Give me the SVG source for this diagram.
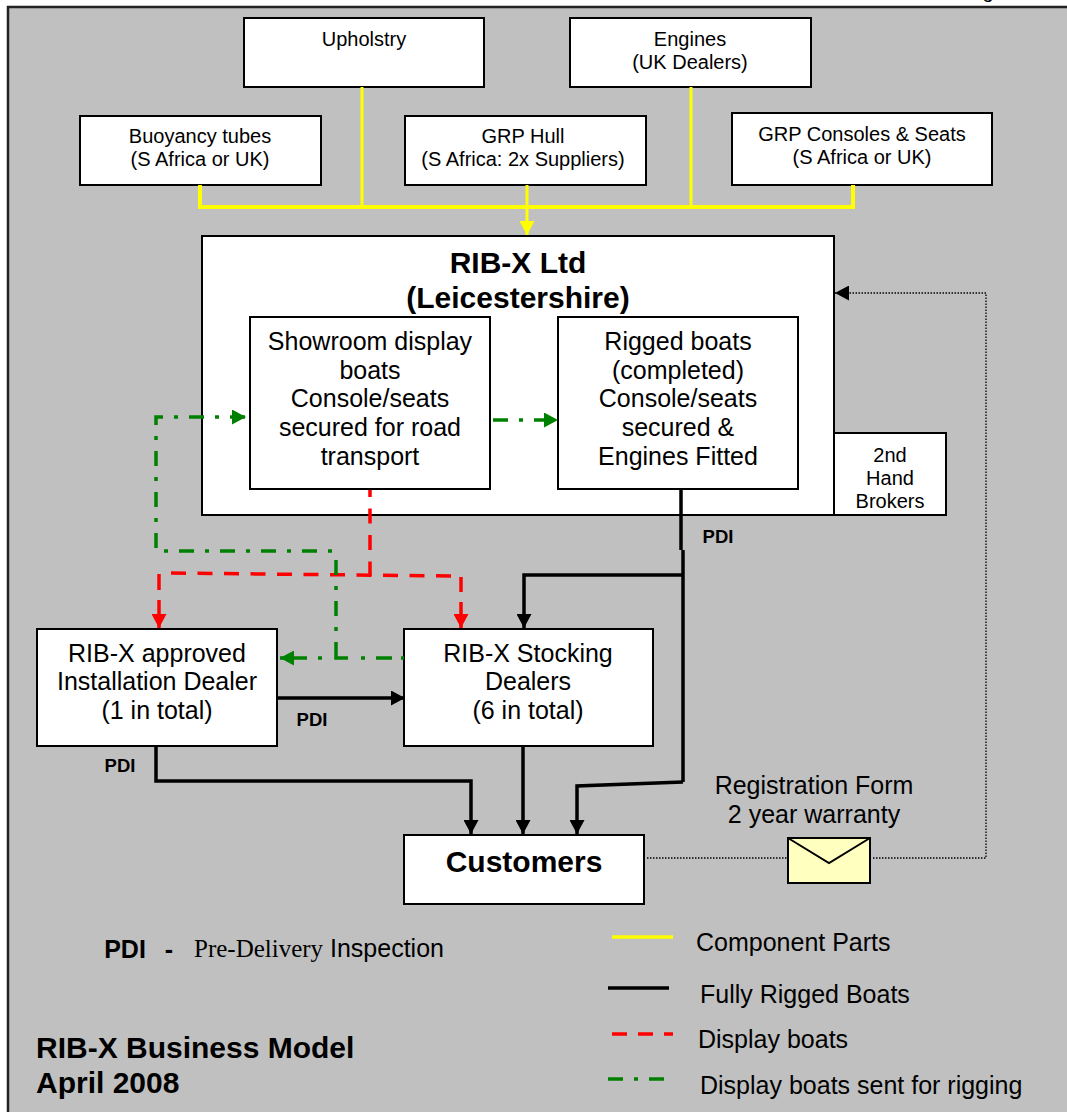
<svg xmlns="http://www.w3.org/2000/svg" width="1067" height="1112" viewBox="0 0 1067 1112">
<defs>
<style>
text{font-family:"Liberation Sans",Arial,sans-serif;fill:#000;text-anchor:middle}
.box{fill:#fff;stroke:#000;stroke-width:2}
.s{font-size:20px}.m{font-size:25px}.t{font-size:30px;font-weight:bold}
.p{font-size:18.5px;font-weight:bold}
.st{text-anchor:start}
.y{fill:none;stroke:#ffff00;stroke-width:3}
.k{fill:none;stroke:#000;stroke-width:3.5}
.r{fill:none;stroke:#ff0000;stroke-width:3.5}
.rd{stroke-dasharray:15 11.5}
.g{fill:none;stroke:#008000;stroke-width:3.5}
.gd{stroke-dasharray:15 11 4 11}
.d{fill:none;stroke:#000;stroke-width:1.3;stroke-dasharray:1.5 1.5}
</style>
<marker id="ay" markerUnits="userSpaceOnUse" markerWidth="15" markerHeight="15" refX="14" refY="7.5" orient="auto"><path d="M0 0L14 7.5L0 15Z" fill="#ffff00"/></marker>
<marker id="ak" markerUnits="userSpaceOnUse" markerWidth="15" markerHeight="15" refX="14" refY="7.5" orient="auto"><path d="M0 0L14 7.5L0 15Z" fill="#000"/></marker>
<marker id="ar" markerUnits="userSpaceOnUse" markerWidth="15" markerHeight="15" refX="14" refY="7.5" orient="auto"><path d="M0 0L14 7.5L0 15Z" fill="#ff0000"/></marker>
<marker id="ag" markerUnits="userSpaceOnUse" markerWidth="15" markerHeight="15" refX="14" refY="7.5" orient="auto"><path d="M0 0L14 7.5L0 15Z" fill="#008000"/></marker>
</defs>
<rect width="1067" height="1112" fill="#fff"/>
<text x="988" y="-2" class="s">g</text>
<rect x="8" y="7" width="1070" height="1110" fill="#c0c0c0" stroke="#222" stroke-width="2.5"/>

<g id="node-upholstry"><rect class="box" x="244" y="18" width="240" height="69"/><text class="s" x="364" y="46">Upholstry</text></g>
<g id="node-engines"><rect class="box" x="570" y="18" width="241" height="69"/><text class="s" x="690" y="46">Engines</text><text class="s" x="690" y="69">(UK Dealers)</text></g>
<g id="node-tubes"><rect class="box" x="80" y="116" width="241" height="69"/><text class="s" x="200" y="143">Buoyancy tubes</text><text class="s" x="200" y="166">(S Africa or UK)</text></g>
<g id="node-hull"><rect class="box" x="405" y="116" width="241" height="69"/><text class="s" x="523" y="143">GRP Hull</text><text class="s" x="523" y="166">(S Africa: 2x Suppliers)</text></g>
<g id="node-consoles"><rect class="box" x="732" y="113" width="260" height="72"/><text class="s" x="862" y="141">GRP Consoles &amp; Seats</text><text class="s" x="862" y="164">(S Africa or UK)</text></g>

<g id="node-ribx"><rect class="box" x="202" y="236" width="632" height="279"/><text x="518" y="273" class="t">RIB-X Ltd</text><text x="518" y="308" class="t">(Leicestershire)</text></g>
<g id="node-brokers"><rect class="box" x="834" y="433" width="112" height="82"/><text class="s" x="890" y="462">2nd</text><text class="s" x="890" y="485">Hand</text><text class="s" x="890" y="508">Brokers</text></g>
<g id="node-showroom"><rect class="box" x="250" y="317" width="240" height="172"/><text class="m" x="370" y="350">Showroom display</text><text class="m" x="370" y="379">boats</text><text class="m" x="370" y="407">Console/seats</text><text class="m" x="370" y="436">secured for road</text><text class="m" x="370" y="465">transport</text></g>
<g id="node-rigged"><rect class="box" x="558" y="317" width="240" height="172"/><text class="m" x="678" y="350">Rigged boats</text><text class="m" x="678" y="379">(completed)</text><text class="m" x="678" y="407">Console/seats</text><text class="m" x="678" y="436">secured &amp;</text><text class="m" x="678" y="465">Engines Fitted</text></g>
<g id="node-install"><rect class="box" x="37" y="629" width="240" height="117"/><text class="m" x="157" y="662">RIB-X approved</text><text class="m" x="157" y="690">Installation Dealer</text><text class="m" x="157" y="719">(1 in total)</text></g>
<g id="node-stocking"><rect class="box" x="404" y="629" width="249" height="117"/><text class="m" x="528" y="662">RIB-X Stocking</text><text class="m" x="528" y="690">Dealers</text><text class="m" x="528" y="719">(6 in total)</text></g>
<g id="node-customers"><rect class="box" x="404" y="835" width="240" height="69"/><text x="524" y="872" class="t">Customers</text></g>

<g id="connectors">
<path class="y" d="M362 87V207M691 87V207"/>
<path class="y" d="M527 185V235" marker-end="url(#ay)"/>
<path class="y" style="stroke-width:4" d="M200 185V207H853V185"/>
<path class="k" d="M681 489V550M683 550V782"/>
<path class="k" d="M683 575H524V628" marker-end="url(#ak)"/>
<path class="k" d="M277 698H405" marker-end="url(#ak)"/>
<path class="k" d="M156 746V781H471V834" marker-end="url(#ak)"/>
<path class="k" d="M523 746V834" marker-end="url(#ak)"/>
<path class="k" d="M683 782L577 786V834" marker-end="url(#ak)"/>
<path class="r rd" d="M370 490V576" stroke-dashoffset="8"/>
<path class="r rd" d="M171 573L451 576"/>
<path class="r" d="M159 574V590M159 600V628" marker-end="url(#ar)"/>
<path class="r" d="M461 577V592M461 602V628" marker-end="url(#ar)"/>
<path class="g gd" d="M156 548V417H246" marker-end="url(#ag)"/>
<path class="g gd" d="M164 551H335" stroke-dashoffset="26"/>
<path class="g gd" d="M493 420H558" marker-end="url(#ag)"/>
<path class="g gd" d="M336 560V643"/>
<path class="g" d="M336 643V658H348"/>
<path class="g" d="M404 658H401M392 658H376M365 658H361M322 658H318M307 658H280" marker-end="url(#ag)"/>
<path class="d" d="M647 858H788M873 858H986V293H835" marker-end="url(#ak)"/>
</g>

<g id="envelope"><rect x="788" y="838" width="82" height="45" fill="#ffffbf" stroke="#000" stroke-width="2"/><path d="M788 838L829 863L870 838" fill="none" stroke="#000" stroke-width="2"/></g>

<text class="p" x="718" y="543">PDI</text>
<text class="p" x="312" y="726">PDI</text>
<text class="p" x="120" y="772">PDI</text>
<text class="m" x="814" y="794">Registration Form</text>
<text class="m" x="814" y="823">2 year warranty</text>

<g id="legend">
<text x="125" y="958" class="m" font-weight="bold">PDI</text>
<text x="169" y="958" class="m" font-weight="bold">-</text>
<text x="194" y="957" class="m st" style="font-family:'Liberation Serif',serif">Pre-Delivery</text>
<text x="330" y="957" class="m st">Inspection</text>
<path d="M612 937H673" fill="none" stroke="#ffff00" stroke-width="3.5"/>
<path d="M608 988H669" fill="none" stroke="#000" stroke-width="3.5"/>
<path d="M612 1034H673" fill="none" stroke="#ff0000" stroke-width="3.5" stroke-dasharray="15 11"/>
<path d="M608 1079H664" fill="none" stroke="#008000" stroke-width="3.5" stroke-dasharray="15 11 4 11"/>
<text class="m st" x="696" y="951">Component Parts</text>
<text class="m st" x="700" y="1003">Fully Rigged Boats</text>
<text class="m st" x="698" y="1048">Display boats</text>
<text class="m st" x="700" y="1094">Display boats sent for rigging</text>
<text x="36" y="1058" class="t st">RIB-X Business Model</text>
<text x="36" y="1093" class="t st">April 2008</text>
</g>
</svg>
